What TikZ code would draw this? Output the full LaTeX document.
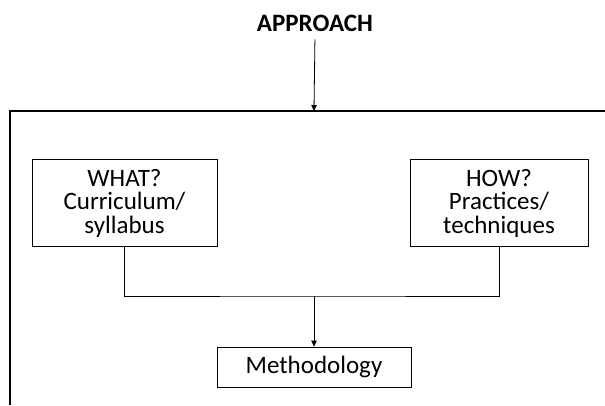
\documentclass[tikz,border=0pt]{standalone}
\usepackage{fontspec}
\setmainfont{Carlito}
\usetikzlibrary{arrows.meta}

\begin{document}
\begin{tikzpicture}[
      x=1pt, y=1pt,
      box/.style={draw, line width=0.8pt, align=center, inner sep=0pt, font=\fontsize{25}{23.5}\selectfont},
      ln/.style={line width=0.8pt},
      ar/.style={-{Triangle[length=6pt, width=5.5pt]}, line width=0.8pt},
      frame/.style={line width=2pt}
    ]
    \useasboundingbox (0,0) rectangle (605,405);
    \node[anchor=base, inner sep=2pt, font=\fontsize{25}{23.5}\selectfont\bfseries] (approach) at (315,373) {APPROACH};
    \coordinate (ftop) at (314,294);
    \coordinate (fleft) at (10,0);
    \coordinate (fright) at (605,294);
    \draw[frame] (fleft) |- (fright);
    \draw[ar, shorten <=5pt] (approach.south) -- (ftop);
    \node[box, minimum width=185pt, minimum height=87pt] (what) at (124.5,202) {WHAT?\\Curriculum/\\syllabus};
    \node[box, minimum width=178pt, minimum height=87pt] (how) at (499,202) {HOW?\\Practices/\\techniques};
    \node[box, minimum width=194pt, minimum height=40pt] (method) at (314,38) {Methodology};
    \coordinate (join) at (314,109);
    \draw[ln] (what.south) |- (join) -| (how.south);
    \draw[ar] (join) -- (method.north);
  \end{tikzpicture}
\end{document}
